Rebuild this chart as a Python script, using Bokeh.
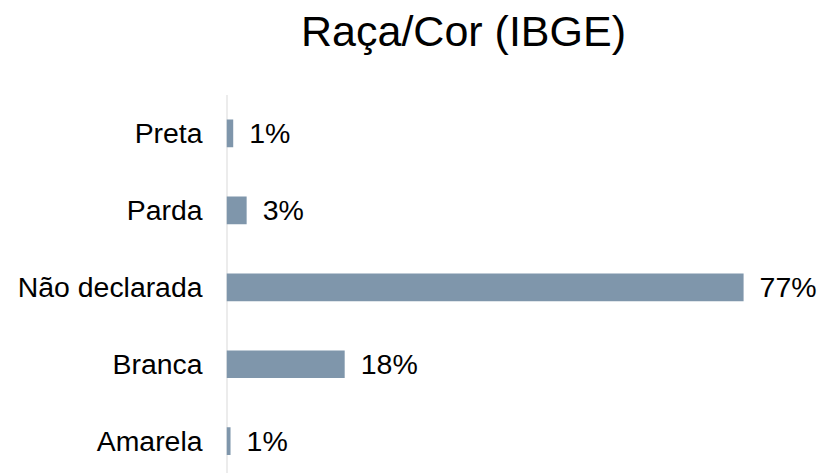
from bokeh.plotting import figure
from bokeh.models import Range1d, FixedTicker, ColumnDataSource
from bokeh.core.properties import value
from bokeh.embed import file_html
from bokeh.resources import INLINE

title_text = "Raça/Cor (IBGE)"
categories = ["Preta", "Parda", "Não declarada", "Branca", "Amarela"]
values = [1.0, 3.0, 77.0, 17.6, 0.6]
value_labels = ["1%", "3%", "77%", "18%", "1%"]

n = len(categories)
positions = [n - 1 - i for i in range(n)]

# layout geometry (pixels)
W, H = 823, 473
left_border = 226
frame_w = W - left_border
band_px = 77.0
cat_top_px = 94.5          # top of the category area
title_baseline_px = 31.0
title_center_px = 463.0

x_end = 88.9
y_bottom = -0.42
y_cat_top = n - 0.5
y_top = y_cat_top + cat_top_px / band_px

src = ColumnDataSource(dict(y=positions, v=values, lab=value_labels))

p = figure(width=W, height=H, output_backend="svg", toolbar_location=None,
           x_range=Range1d(0, x_end), y_range=Range1d(y_bottom, y_top),
           min_border_left=left_border, min_border_right=0, min_border_top=0,
           min_border_bottom=0, outline_line_color=None)

# vertical axis line (category area only)
p.segment(x0=[0], y0=[y_cat_top], x1=[0], y1=[y_bottom],
          line_color="#D9D9D9", line_width=2)

p.hbar(y="y", right="v", left=0, height=0.36, source=src,
       fill_color="#7F96AB", line_color=None)

p.text(x="v", y="y", text="lab", source=src, x_offset=16,
       text_baseline="middle", text_align="left",
       text_font=value("Liberation Sans"), text_font_size="28.5px",
       text_color="#000000")

# title
title_x = (title_center_px - left_border) / frame_w * x_end
title_y = y_top - title_baseline_px / band_px
p.text(x=[title_x], y=[title_y], text=[title_text],
       text_align="center", text_baseline="alphabetic",
       text_font=value("Liberation Sans"), text_font_size="43px",
       text_color="#000000")

p.xaxis.visible = False
p.xgrid.visible = False
p.ygrid.visible = False

ya = p.yaxis[0]
ya.ticker = FixedTicker(ticks=positions)
ya.major_label_overrides = {pos: c for pos, c in zip(positions, categories)}
ya.major_tick_line_color = None
ya.minor_tick_line_color = None
ya.major_tick_out = 0
ya.major_tick_in = 0
ya.major_label_standoff = 24
ya.axis_line_color = None
ya.major_label_text_font = "Liberation Sans"
ya.major_label_text_font_size = "28.4px"
ya.major_label_text_color = "#000000"

open("out.html", "w").write(file_html(p, INLINE))
